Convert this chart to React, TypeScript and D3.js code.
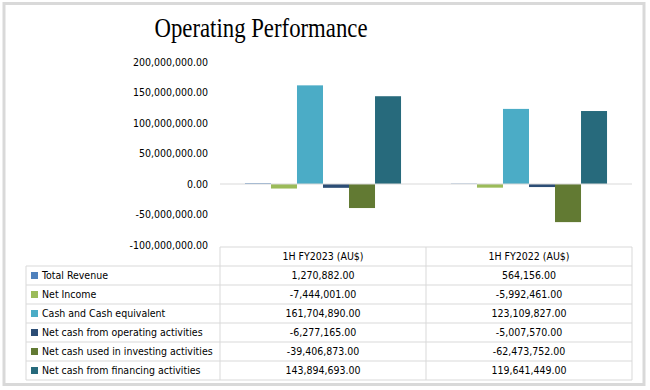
import React from 'react';
import * as d3 from 'd3';

const categories = ['1H FY2023 (AU$)', '1H FY2022 (AU$)'];
const seriesNames = [
  'Total Revenue',
  'Net Income',
  'Cash and Cash equivalent',
  'Net cash from operating activities',
  'Net cash used in investing activities',
  'Net cash from financing activities',
];
const fy2023 = [1270882, -7444001, 161704890, -6277165, -39406873, 143894693];
const fy2022 = [564156, -5992461, 123109827, -5007570, -62473752, 119641449];
const seriesColors = ['#4f81bd', '#9bbb59', '#4bacc6', '#2c4d75', '#627a33', '#276a7c'];
const yTicks = [-100000000, -50000000, 0, 50000000, 100000000, 150000000, 200000000];

const W = 650;
const H = 390;
const plotLeft = 220;
const plotRight = 632;
const tableLeft = 26;
const headerTop = 247;
const rowH = 19;

// hyphen minus like Excel, not the unicode minus
const fmt = d3.formatLocale({ decimal: '.', thousands: ',', grouping: [3], currency: ['$', ''], minus: '-' }).format(',.2f');
const font = "'DejaVu Sans Condensed', 'Liberation Sans', sans-serif";
const fs = 10.5;

const App = () => {
  const values = [fy2023, fy2022];

  const y = d3.scaleLinear().domain([-100000000, 200000000]).range([245, 62]);
  const x0 = d3.scaleBand<string>().domain(categories).range([plotLeft, plotRight]);
  const x1 = d3
    .scaleBand<string>()
    .domain(seriesNames)
    .range([0, x0.bandwidth()])
    .paddingOuter(0.96);

  return (
    <svg width={W} height={H} style={{ position: 'absolute', left: 0, top: 0 }}>
      <rect x={0} y={0} width={W} height={H} fill="#fff" />
      <rect x={4} y={3.5} width={640} height={381} fill="#fff" stroke="#d9d9d9" strokeWidth={3} />

      <text
        x={261}
        y={37}
        textAnchor="middle"
        fontFamily="'Liberation Serif', 'DejaVu Serif', serif"
        fontSize={28}
        textLength={213}
        lengthAdjust="spacingAndGlyphs"
        fill="#000"
      >
        Operating Performance
      </text>

      {/* y axis labels */}
      <g fontFamily={font} fontSize={fs} fill="#000" textAnchor="end">
        {yTicks.map(t => (
          <text key={t} x={208} y={y(t)} dy="0.35em">
            {fmt(t)}
          </text>
        ))}
      </g>

      {/* bars */}
      {categories.map((c, ci) => (
        <g key={c} transform={`translate(${x0(c)},0)`}>
          {seriesNames.map((s, si) => {
            const v = values[ci][si];
            return (
              <rect
                key={s}
                x={x1(s)}
                width={x1.bandwidth()}
                y={Math.min(y(v), y(0))}
                height={Math.abs(y(v) - y(0))}
                fill={seriesColors[si]}
              />
            );
          })}
        </g>
      ))}

      {/* zero line */}
      <line x1={plotLeft} x2={plotRight} y1={y(0)} y2={y(0)} stroke="#d9d9d9" strokeWidth={1} />

      {/* data table */}
      <g stroke="#d9d9d9" strokeWidth={1} fill="none">
        <line x1={plotLeft} x2={plotRight} y1={headerTop} y2={headerTop} />
        {seriesNames.map((s, i) => (
          <line
            key={s}
            x1={tableLeft}
            x2={plotRight}
            y1={headerTop + rowH * (i + 1)}
            y2={headerTop + rowH * (i + 1)}
          />
        ))}
        <line
          x1={tableLeft}
          x2={plotRight}
          y1={headerTop + rowH * 7}
          y2={headerTop + rowH * 7}
        />
        <line x1={tableLeft} x2={tableLeft} y1={headerTop + rowH} y2={headerTop + rowH * 7} />
        {[plotLeft, plotLeft + x0.bandwidth(), plotRight].map(xv => (
          <line key={xv} x1={xv} x2={xv} y1={headerTop} y2={headerTop + rowH * 7} />
        ))}
      </g>

      <g fontFamily={font} fontSize={fs} fill="#000">
        {categories.map(c => (
          <text
            key={c}
            x={(x0(c) as number) + x0.bandwidth() / 2}
            y={headerTop + rowH / 2}
            dy="0.35em"
            textAnchor="middle"
          >
            {c}
          </text>
        ))}
        {seriesNames.map((s, i) => {
          const ry = headerTop + rowH * (i + 1);
          return (
            <g key={s}>
              <rect x={31} y={ry + 6} width={7} height={7} fill={seriesColors[i]} />
              <text x={42} y={ry + rowH / 2} dy="0.35em">
                {s}
              </text>
              {categories.map((c, ci) => (
                <text
                  key={c}
                  x={(x0(c) as number) + x0.bandwidth() / 2}
                  y={ry + rowH / 2}
                  dy="0.35em"
                  textAnchor="middle"
                >
                  {fmt(values[ci][i])}
                </text>
              ))}
            </g>
          );
        })}
      </g>
    </svg>
  );
};

export default App;
